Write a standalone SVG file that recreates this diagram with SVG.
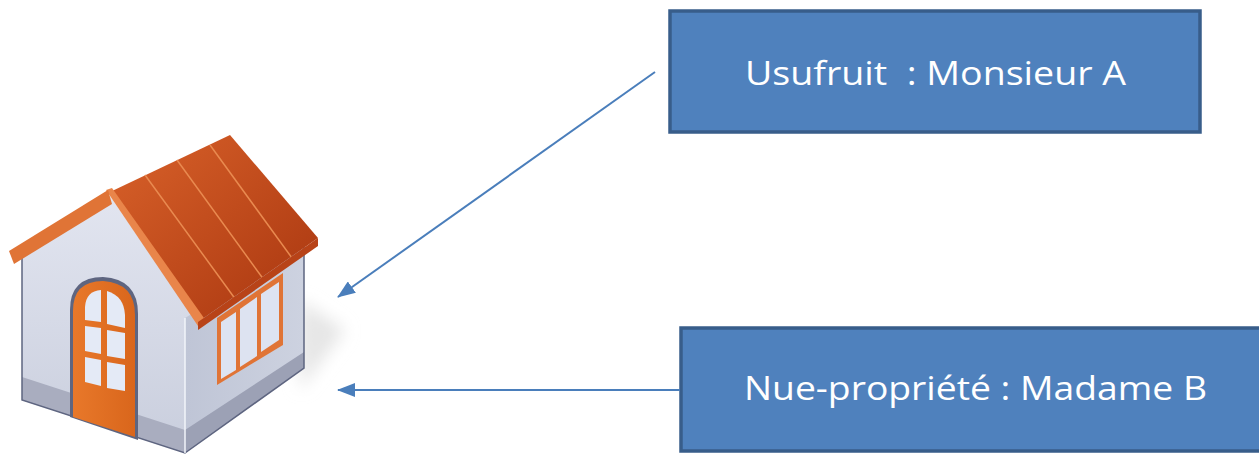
<svg xmlns="http://www.w3.org/2000/svg" width="1259" height="467" viewBox="0 0 1259 467">
  <style>
    .box { fill: #4F81BD; stroke: #385D8A; stroke-width: 3.5; }
    .label { font-family: "Open Sans", "Noto Sans", "Liberation Sans", sans-serif; font-size: 32px; fill: #FFFFFF; white-space: pre; }
    .conn { stroke: #4A7EBB; stroke-width: 2; fill: none; marker-end: url(#arrow); }
    .pane { fill: #E4EAF6; }
    .edge { stroke: #5E6580; stroke-width: 1.5; fill: none; }
  </style>
  <defs>
    <marker id="arrow" viewBox="0 0 18 14" refX="17" refY="7" markerWidth="18" markerHeight="14" markerUnits="userSpaceOnUse" orient="auto">
      <path d="M0,0 L18,7 L0,14 Z" fill="#4A7EBB"/>
    </marker>
    <linearGradient id="roofGrad" x1="0" y1="0" x2="1" y2="1">
      <stop offset="0" stop-color="#D9622A"/>
      <stop offset="1" stop-color="#A8350F"/>
    </linearGradient>
    <linearGradient id="wallGrad" x1="0" y1="0" x2="0" y2="1">
      <stop offset="0" stop-color="#E2E5F0"/>
      <stop offset="1" stop-color="#C9CEDD"/>
    </linearGradient>
    <linearGradient id="sideGrad" x1="0" y1="0" x2="1" y2="0">
      <stop offset="0" stop-color="#BFC5D6"/>
      <stop offset="1" stop-color="#CDD2E0"/>
    </linearGradient>
    <linearGradient id="doorGrad" x1="0" y1="0" x2="1" y2="0">
      <stop offset="0" stop-color="#E8782A"/>
      <stop offset="1" stop-color="#D9661C"/>
    </linearGradient>
    <filter id="soft" x="-50%" y="-50%" width="200%" height="200%">
      <feGaussianBlur stdDeviation="8"/>
    </filter>
  </defs>

  <!-- House -->
  <g id="house">
    <!-- soft ground shadow -->
    <path d="M300,300 L345,330 L300,390 Z" fill="#E6E6E6" filter="url(#soft)"/>
    <!-- front gable wall (top edge tucked under the roof) -->
    <path d="M110,196 L22,256 L22,400 L185,453 L185,330 L200,326 Z" fill="url(#wallGrad)"/>
    <!-- right wall -->
    <path d="M185,318 L304,246 L304,368 L185,453 Z" fill="url(#sideGrad)"/>
    <!-- base band -->
    <path d="M22,377 L185,430 L185,453 L22,400 Z" fill="#A9ADBF"/>
    <path d="M185,430 L304,352 L304,368 L185,453 Z" fill="#9CA1B5"/>
    <!-- wall outlines -->
    <path class="edge" d="M22,258 L22,400 L185,453 L304,368 L304,246"/>
    <line x1="185" y1="318" x2="185" y2="453" stroke="#F2F4FA" stroke-width="1.5"/>
    <!-- roof -->
    <path d="M110,192 L230,135 L318,238 L198,322 Z" fill="url(#roofGrad)"/>
    <path d="M145,175 L236,300" stroke="#E98A50" stroke-width="1.5"/>
    <path d="M177,160 L264,280" stroke="#E98A50" stroke-width="1.5"/>
    <path d="M210,145 L292,258" stroke="#E98A50" stroke-width="1.5"/>
    <!-- roof front edge -->
    <path d="M106,190 L112,188 L204,318 L198,326 Z" fill="#E9854A"/>
    <path d="M198,322 L318,238 L318,246 L198,330 Z" fill="#B84318"/>
    <!-- left eave -->
    <path d="M108,190 L112,204 L14,264 L9,251 Z" fill="#E07436"/>
    <!-- door -->
    <path d="M70,417 L70,310 Q70,277 103,277 Q138,279 138,314 L138,440 Z" fill="#5E6580"/>
    <path d="M73,417 L73,311 Q73,281 103,281 Q135,283 135,315 L135,437 Z" fill="url(#doorGrad)"/>
    <!-- door glazing -->
    <path d="M85,320 L85,307 Q86,291 101,290 L101,322 Z" class="pane"/>
    <path d="M107,291 Q124,296 125,315 L125,328 L107,324 Z" class="pane"/>
    <path d="M85,326 L101,328 L101,354 L85,351 Z" class="pane"/>
    <path d="M107,330 L125,333 L125,359 L107,356 Z" class="pane"/>
    <path d="M85,357 L101,360 L101,386 L85,382 Z" class="pane"/>
    <path d="M107,362 L125,365 L125,391 L107,388 Z" class="pane"/>
    <!-- side window -->
    <path d="M217,318 L283,273 L283,345 L217,385 Z" fill="#E07436"/>
    <path d="M221,322 L236,312 L236,370 L221,379 Z" fill="#DDE3F1"/>
    <path d="M240,309 L257,297 L257,356 L240,367 Z" fill="#DDE3F1"/>
    <path d="M261,294 L279,282 L279,340 L261,352 Z" fill="#DDE3F1"/>
  </g>

  <!-- Nodes -->
  <g id="node-usufruit">
    <rect class="box" x="670" y="11" width="530" height="121"/>
    <text class="label" x="745" y="85" textLength="381" lengthAdjust="spacingAndGlyphs" xml:space="preserve">Usufruit  : Monsieur A</text>
  </g>
  <g id="node-nue-propriete">
    <rect class="box" x="681" y="328" width="590" height="123"/>
    <text class="label" x="744" y="400" textLength="463" lengthAdjust="spacingAndGlyphs">Nue-propriété : Madame B</text>
  </g>

  <!-- Connectors -->
  <g id="connectors">
    <line class="conn" x1="655" y1="72" x2="338" y2="297"/>
    <line class="conn" x1="680" y1="390" x2="338" y2="390"/>
  </g>
</svg>
